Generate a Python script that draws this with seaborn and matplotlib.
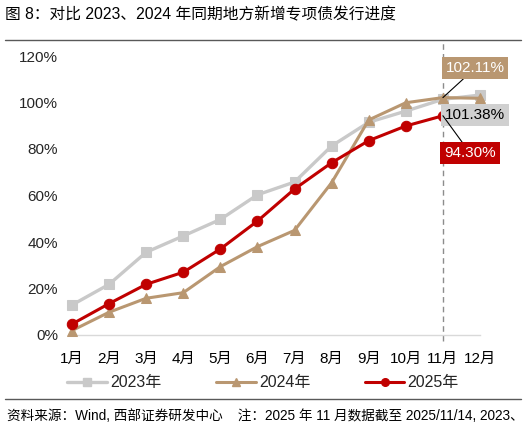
import numpy as np
import pandas as pd
import matplotlib
matplotlib.use("Agg")
import matplotlib.pyplot as plt
import seaborn as sns
from matplotlib.lines import Line2D

months = ['1月', '2月', '3月', '4月', '5月', '6月', '7月', '8月', '9月', '10月', '11月', '12月']
y2023 = [0.129, 0.218, 0.356, 0.426, 0.497, 0.603, 0.658, 0.813, 0.915, 0.963, 1.0138, 1.032]
y2024 = [0.019, 0.098, 0.158, 0.182, 0.294, 0.380, 0.450, 0.655, 0.925, 0.999, 1.0211, 1.018]
y2025 = [0.047, 0.135, 0.218, 0.270, 0.370, 0.490, 0.628, 0.741, 0.836, 0.899, 0.9430]

c23 = '#c9c9c9'
c24 = '#b99771'
c25 = '#c00000'

sns.set_style("white")
plt.rcParams['font.family'] = ['Liberation Sans', 'Noto Sans CJK SC', 'DejaVu Sans']
plt.rcParams['axes.unicode_minus'] = False

fig = plt.figure(figsize=(5.26, 4.29), dpi=100)
ax = fig.add_axes([72/526, (429-335)/429, (480-72)/526, (335-56)/429])

x = np.arange(len(months))
df23 = pd.DataFrame({'m': x, 'v': y2023})
df24 = pd.DataFrame({'m': x, 'v': y2024})
df25 = pd.DataFrame({'m': x[:len(y2025)], 'v': y2025})

sns.lineplot(data=df23, x='m', y='v', ax=ax, color=c23, lw=2.4, marker='s', markersize=7,
             markeredgecolor=c23, clip_on=False, zorder=3)
sns.lineplot(data=df24, x='m', y='v', ax=ax, color=c24, lw=2.2, marker='^', markersize=7,
             markeredgecolor=c24, clip_on=False, zorder=4)
sns.lineplot(data=df25, x='m', y='v', ax=ax, color=c25, lw=2.2, marker='o', markersize=7.5,
             markeredgecolor=c25, clip_on=False, zorder=5)

# dashed marker line at November
ax.plot([10, 10], [-0.025, 1.26], ls=(0, (4, 3)), color='#8c8c8c', lw=1, clip_on=False, zorder=2)

ax.set_xlim(0, 11)
ax.set_ylim(0, 1.2)
ax.set_xticks(x)
ax.set_xticklabels(months, fontsize=11)
ax.set_yticks(np.arange(0, 1.21, 0.2))
ax.set_yticklabels([f'{int(round(v*100))}%' for v in np.arange(0, 1.21, 0.2)], fontsize=11)
ax.set_xlabel('')
ax.set_ylabel('')
for s in ['top', 'right', 'left']:
    ax.spines[s].set_visible(False)
ax.spines['bottom'].set_color('#d9d9d9')
ax.spines['bottom'].set_linewidth(1)
ax.tick_params(axis='x', length=4, color='#d9d9d9', pad=8, colors='black')
ax.tick_params(axis='x', which='major', color='#d9d9d9')
ax.tick_params(axis='y', length=0, pad=10)

# labels at November
ax.annotate('102.11%', xy=(10, y2024[10]), xytext=(10.87, 1.148), fontsize=11, color='white',
            ha='center', va='center',
            bbox=dict(boxstyle='square,pad=0.25', fc=c24, ec='none'),
            arrowprops=dict(arrowstyle='-', color='black', lw=0.8, shrinkA=0, shrinkB=0), zorder=6)
ax.annotate('101.38%', xy=(10, y2023[10]), xytext=(10.87, 0.946), fontsize=11, color='black',
            ha='center', va='center',
            bbox=dict(boxstyle='square,pad=0.25', fc='#d0d0d0', ec='none'), zorder=6)
ax.annotate('94.30%', xy=(10, y2025[10]), xytext=(10.73, 0.783), fontsize=11, color='white',
            ha='center', va='center',
            bbox=dict(boxstyle='square,pad=0.25', fc=c25, ec='none'),
            arrowprops=dict(arrowstyle='-', color='black', lw=0.8, shrinkA=0, shrinkB=0), zorder=6)

handles = [Line2D([], [], color=c23, lw=2.4, marker='s', markersize=5.5, markeredgecolor=c23),
           Line2D([], [], color=c24, lw=2.2, marker='^', markersize=5.5, markeredgecolor=c24),
           Line2D([], [], color=c25, lw=2.2, marker='o', markersize=5.5, markeredgecolor=c25)]
fig.legend(handles, ['2023年', '2024年', '2025年'], loc='center', bbox_to_anchor=(0.5, (429-383)/429),
           ncol=3, frameon=False, fontsize=11.5, handlelength=2.5, handletextpad=0.2, columnspacing=3.4)

# title and separators
fig.text(5/526, 1-15/429, '图 8：对比 2023、2024 年同期地方新增专项债发行进度', fontsize=11.3,
         ha='left', va='center', color='black')
fig.add_artist(Line2D([5/526, 521/526], [1-40/429, 1-40/429], color='#595959', lw=1))
fig.add_artist(Line2D([5/526, 521/526], [1-399/429, 1-399/429], color='#595959', lw=1))
fig.text(7/526, 1-416/429, '资料来源：Wind, 西部证券研发中心    注：2025 年 11 月数据截至 2025/11/14, 2023、',
         fontsize=9.8, ha='left', va='center', color='black')

fig.savefig('out.png', dpi=100)
